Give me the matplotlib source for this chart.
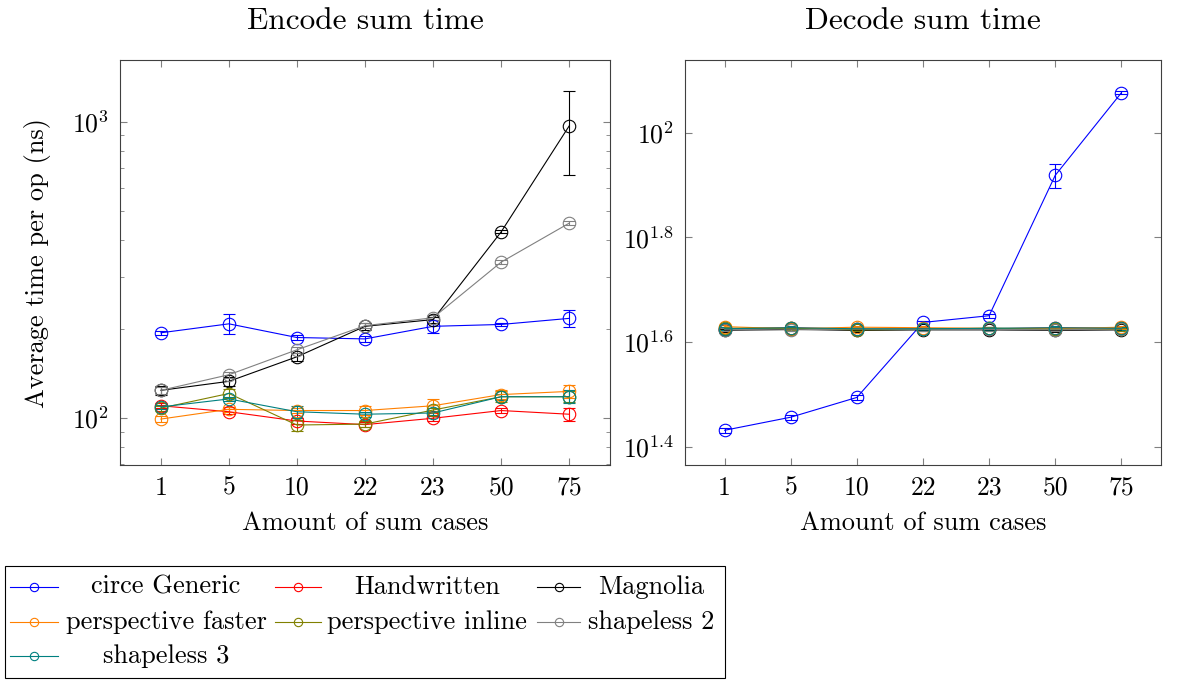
import numpy as np
import matplotlib
matplotlib.use('Agg')
import matplotlib.pyplot as plt
from matplotlib.patches import Rectangle
from matplotlib.lines import Line2D

plt.rcParams['font.family'] = 'cmr10'
plt.rcParams['mathtext.fontset'] = 'cm'
plt.rcParams['axes.formatter.use_mathtext'] = True

# categories
cases = ['1', '5', '10', '22', '23', '50', '75']
names = ['circe Generic', 'Handwritten', 'Magnolia', 'perspective faster',
         'perspective inline', 'shapeless 2', 'shapeless 3']
colors = ['#0000ff', '#ff0000', '#000000', '#ff8000', '#808000', '#808080', '#008080']

# encode (ns)
enc_circe = [194, 208, 187, 185, 204, 207, 217]
enc_circe_err = [3, 16, 4, 4, 11, 3, 14]
enc_hand = [110, 105, 97.7, 95, 99.8, 106, 103]
enc_hand_err = [2, 2, 2, 2, 2, 2, 5]
enc_magnolia = [124, 133, 161, 204, 215, 425, 969]
enc_magnolia_err = [4, 5, 5, 5, 5, 5, 305]
enc_pfaster = [99.2, 107, 106, 106, 110, 120, 123]
enc_pfaster_err = [2, 2, 2, 4, 6, 4, 6]
enc_pinline = [108, 121, 94.7, 95.4, 106.4, 118, 118]
enc_pinline_err = [2, 4, 4, 2, 2, 5, 5]
enc_shapeless2 = [124, 140, 170, 205, 218, 336, 455]
enc_shapeless2_err = [3, 3, 4, 4, 4, 5, 6]
enc_shapeless3 = [109, 116, 105, 103, 104, 118, 118]
enc_shapeless3_err = [2, 2, 5, 2, 2, 3, 6]

# decode (ns)
dec_circe = [27.0, 28.6, 31.2, 43.4, 44.7, 82.9, 119.2]
dec_circe_err = [0.3, 0.3, 0.3, 0.3, 0.4, 4.4, 0.8]
dec_hand = [42.2, 42.4, 42.1, 42.2, 42.2, 42.4, 42.3]
dec_magnolia = [41.9, 42.1, 41.9, 42.0, 42.0, 41.9, 42.0]
dec_pfaster = [42.6, 42.2, 42.5, 42.4, 42.3, 42.2, 42.5]
dec_pinline = [42.3, 42.3, 42.0, 42.1, 42.3, 42.1, 42.1]
dec_shapeless2 = [42.0, 42.0, 42.2, 42.1, 42.1, 42.0, 42.2]
dec_shapeless3 = [42.2, 42.4, 42.2, 42.2, 42.3, 42.4, 42.3]
dec_err = 0.3

enc = [(enc_circe, enc_circe_err), (enc_hand, enc_hand_err), (enc_magnolia, enc_magnolia_err),
       (enc_pfaster, enc_pfaster_err), (enc_pinline, enc_pinline_err),
       (enc_shapeless2, enc_shapeless2_err), (enc_shapeless3, enc_shapeless3_err)]
dec = [(dec_circe, dec_circe_err), (dec_hand, dec_err), (dec_magnolia, dec_err),
       (dec_pfaster, dec_err), (dec_pinline, dec_err), (dec_shapeless2, dec_err),
       (dec_shapeless3, dec_err)]

W, H = 1180, 680
fig = plt.figure(figsize=(11.8, 6.8), dpi=100)
ax1 = fig.add_axes([120/W, 215/H, 490/W, 405/H])
ax2 = fig.add_axes([685/W, 215/H, 476/W, 405/H])

x = np.arange(len(cases))
for ax, series in [(ax1, enc), (ax2, dec)]:
    for (vals, err), c, n in zip(series, colors, names):
        ax.errorbar(x, vals, yerr=err, color=c, lw=0.8, marker='o', ms=9,
                    mfc='none', mec=c, mew=0.8, capsize=4, elinewidth=0.8,
                    capthick=0.8, label=n)
    ax.set_yscale('log')
    ax.set_xticks(x)
    ax.set_xticklabels(cases)
    ax.set_xlim(-0.6, 6.6)
    ax.set_xlabel('Amount of sum cases', fontsize=19, labelpad=8)
    ax.tick_params(direction='in', top=True, right=True, labelsize=18.5,
                   color='#808080', length=5, pad=8)
    ax.tick_params(which='minor', direction='in', right=True, color='#808080', length=3)
    for s in ax.spines.values():
        s.set_color('#404040')

ax1.set_ylim(69.4, 1618)
ax1.set_yticks([100, 1000])
ax1.set_yticklabels(['$10^{2}$', '$10^{3}$'])
ax1.set_ylabel('Average time per op (ns)', fontsize=19)
ax1.yaxis.set_label_coords(-0.14, 0.5)
ax1.set_title('Encode sum time', fontsize=22.5, pad=22)

ax2.set_ylim(10**1.365, 10**2.139)
ax2.set_yticks([10**1.4, 10**1.6, 10**1.8, 100])
ax2.set_yticklabels(['$10^{1.4}$', '$10^{1.6}$', '$10^{1.8}$', '$10^{2}$'])
ax2.yaxis.set_minor_locator(matplotlib.ticker.NullLocator())
ax2.set_title('Decode sum time', fontsize=22.5, pad=22)

# legend, drawn by hand so text is centred in each column like pgfplots
fig.add_artist(Rectangle((5/W, 1 - 678/H), 720/W, 112/H, transform=fig.transFigure,
                         fill=False, edgecolor='#000000', lw=0.8))
col_handle = [(10, 58), (275, 321), (537, 580)]
col_text = [166, 427, 651]
row_y = [587, 622, 656]
slots = [(0, 0), (0, 1), (0, 2), (1, 0), (1, 1), (1, 2), (2, 0)]
for (r, c), n, col in zip(slots, names, colors):
    y = 1 - row_y[r] / H
    x0, x1 = col_handle[c]
    fig.add_artist(Line2D([x0/W, x1/W], [y, y], transform=fig.transFigure, color=col, lw=0.8))
    fig.add_artist(Line2D([(x0 + x1)/2/W], [y], transform=fig.transFigure, color=col,
                          marker='o', ms=6, mfc='none', mew=0.8))
    fig.text(col_text[c]/W, y, n, fontsize=19, ha='center', va='center')

fig.savefig('out.png', dpi=100)
